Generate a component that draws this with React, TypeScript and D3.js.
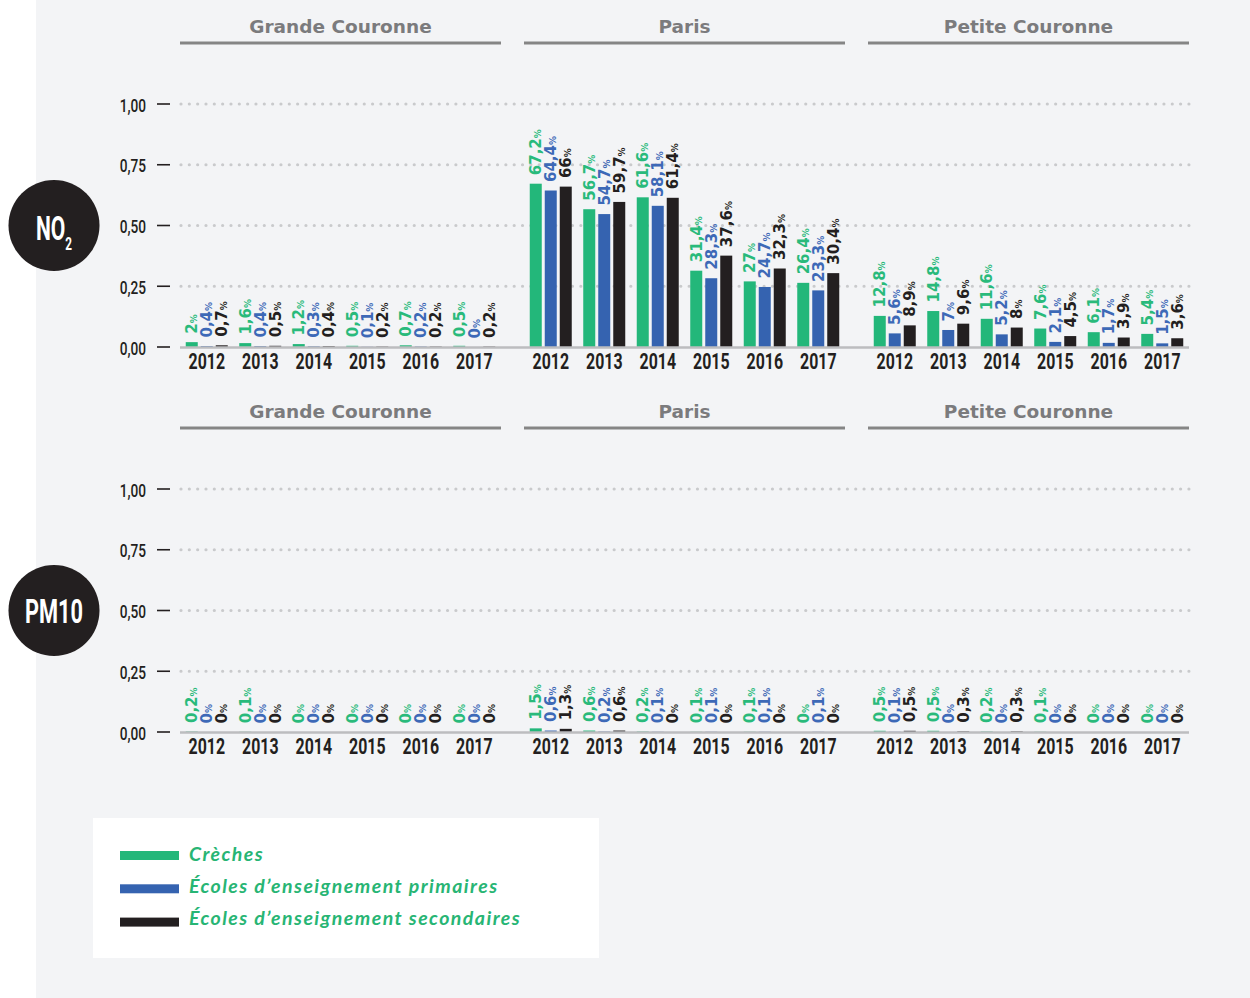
import { format, scaleBand, scaleLinear } from "d3";
import type { ReactElement } from "react";

const YEARS = ["2012", "2013", "2014", "2015", "2016", "2017"];
const ZONES = ["Grande Couronne", "Paris", "Petite Couronne"];
const SERIES = [
  "Crèches",
  "Écoles d’enseignement primaires",
  "Écoles d’enseignement secondaires",
];
const SERIES_COLORS = ["#23b77a", "#3563b0", "#231f20"];
const LABEL_COLORS = ["#29ba7b", "#3d69b7", "#231f20"];
const Y_TICKS = [0, 0.25, 0.5, 0.75, 1];

// NO2 — % d'établissements exposés, par zone
const NO2_GC_CRECHES = [2, 1.6, 1.2, 0.5, 0.7, 0.5];
const NO2_GC_PRIMAIRES = [0.4, 0.4, 0.3, 0.1, 0.2, 0];
const NO2_GC_SECONDAIRES = [0.7, 0.5, 0.4, 0.2, 0.2, 0.2];
const NO2_PARIS_CRECHES = [67.2, 56.7, 61.6, 31.4, 27, 26.4];
const NO2_PARIS_PRIMAIRES = [64.4, 54.7, 58.1, 28.3, 24.7, 23.3];
const NO2_PARIS_SECONDAIRES = [66, 59.7, 61.4, 37.6, 32.3, 30.4];
const NO2_PC_CRECHES = [12.8, 14.8, 11.6, 7.6, 6.1, 5.4];
const NO2_PC_PRIMAIRES = [5.6, 7, 5.2, 2.1, 1.7, 1.5];
const NO2_PC_SECONDAIRES = [8.9, 9.6, 8, 4.5, 3.9, 3.6];

// PM10
const PM10_GC_CRECHES = [0.2, 0.1, 0, 0, 0, 0];
const PM10_GC_PRIMAIRES = [0, 0, 0, 0, 0, 0];
const PM10_GC_SECONDAIRES = [0, 0, 0, 0, 0, 0];
const PM10_PARIS_CRECHES = [1.5, 0.6, 0.2, 0.1, 0.1, 0];
const PM10_PARIS_PRIMAIRES = [0.6, 0.2, 0.1, 0.1, 0.1, 0.1];
const PM10_PARIS_SECONDAIRES = [1.3, 0.6, 0, 0, 0, 0];
const PM10_PC_CRECHES = [0.5, 0.5, 0.2, 0.1, 0, 0];
const PM10_PC_PRIMAIRES = [0.1, 0, 0, 0, 0, 0];
const PM10_PC_SECONDAIRES = [0.5, 0.3, 0.3, 0, 0, 0];

type Row = {
  readonly key: string;
  readonly baseY: number;
  readonly zones: ReadonlyArray<ReadonlyArray<ReadonlyArray<number>>>;
};

const ROWS: ReadonlyArray<Row> = [
  {
    key: "NO2",
    baseY: 347,
    zones: [
      [NO2_GC_CRECHES, NO2_GC_PRIMAIRES, NO2_GC_SECONDAIRES],
      [NO2_PARIS_CRECHES, NO2_PARIS_PRIMAIRES, NO2_PARIS_SECONDAIRES],
      [NO2_PC_CRECHES, NO2_PC_PRIMAIRES, NO2_PC_SECONDAIRES],
    ],
  },
  {
    key: "PM10",
    baseY: 732,
    zones: [
      [PM10_GC_CRECHES, PM10_GC_PRIMAIRES, PM10_GC_SECONDAIRES],
      [PM10_PARIS_CRECHES, PM10_PARIS_PRIMAIRES, PM10_PARIS_SECONDAIRES],
      [PM10_PC_CRECHES, PM10_PC_PRIMAIRES, PM10_PC_SECONDAIRES],
    ],
  },
];

const WIDTH = 1250;
const HEIGHT = 998;
const PLOT_H = 243;
const COND = "Roboto, 'DejaVu Sans', sans-serif";

const zoneScale = scaleBand<string>().domain(ZONES).range([180, 1189]).paddingInner(23 / 344);
const yearScale = scaleBand<string>()
  .domain(YEARS)
  .range([0, zoneScale.bandwidth()])
  .paddingInner(0.215)
  .paddingOuter(0.1075);
const seriesScale = scaleBand<string>()
  .domain(SERIES)
  .range([0, yearScale.bandwidth()])
  .paddingInner(0.2);

const fmtTick = (v: number): string => format(".2f")(v).replace(".", ",");
const fmtValue = (v: number): string => String(v).replace(".", ",");

// condensed text faked through a horizontal scale
const CondText = (p: {
  x: number;
  y: number;
  sx: number;
  size: number;
  anchor: "start" | "middle" | "end";
  fill: string;
  weight: number;
  children: React.ReactNode;
}): ReactElement => (
  <text
    transform={`translate(${p.x},${p.y}) scale(${p.sx},1)`}
    textAnchor={p.anchor}
    fontFamily={COND}
    fontSize={p.size}
    fontWeight={p.weight}
    fill={p.fill}
  >
    {p.children}
  </text>
);

const Panel = ({ row }: { row: Row }): ReactElement => {
  const y = scaleLinear().domain([0, 1]).range([row.baseY, row.baseY - PLOT_H]);
  const [x0, x1] = zoneScale.range();
  return (
    <g>
      {/* y axis */}
      {Y_TICKS.map((t) => (
        <g key={t}>
          <CondText x={146} y={y(t) + 7.5} sx={0.76} size={18} anchor="end" fill="#231f20" weight={500}>
            {fmtTick(t)}
          </CondText>
          <line x1={157} x2={170} y1={y(t)} y2={y(t)} stroke="#231f20" strokeWidth={1.6} />
          {t > 0 && (
            <line
              x1={x0 + 1}
              x2={x1}
              y1={y(t)}
              y2={y(t)}
              stroke="#c9cacc"
              strokeWidth={3.2}
              strokeLinecap="round"
              strokeDasharray="0 8.33"
            />
          )}
        </g>
      ))}

      {ZONES.map((zone, zi) => {
        const zx = zoneScale(zone) ?? 0;
        const zw = zoneScale.bandwidth();
        return (
          <g key={zone}>
            <text
              x={zx + zw / 2}
              y={row.baseY - 314}
              textAnchor="middle"
              fontFamily="'DejaVu Sans', sans-serif"
              fontWeight={700}
              fontSize={18.5}
              fill="#7b7b7d"
            >
              {zone}
            </text>
            <line x1={zx} x2={zx + zw} y1={row.baseY - 304} y2={row.baseY - 304} stroke="#858585" strokeWidth={2.8} />

            {YEARS.map((year, yi) => {
              const gx = zx + (yearScale(year) ?? 0);
              return (
                <g key={year}>
                  {SERIES.map((s, si) => {
                    const v = row.zones[zi][si][yi];
                    const bx = gx + (seriesScale(s) ?? 0);
                    const bw = seriesScale.bandwidth();
                    const top = y(v / 100);
                    const cx = bx + bw / 2;
                    return (
                      <g key={s}>
                        {v > 0 && (
                          <rect x={bx} y={top} width={bw} height={row.baseY - top} fill={SERIES_COLORS[si]} />
                        )}
                        <text
                          transform={`translate(${cx},${top - 8.5}) rotate(-90)`}
                          y={5.6}
                          fontFamily="'DejaVu Sans', sans-serif"
                          fontWeight={700}
                          fontSize={15}
                          fill={LABEL_COLORS[si]}
                        >
                          {fmtValue(v)}
                          <tspan fontSize={9}>%</tspan>
                        </text>
                      </g>
                    );
                  })}
                  <CondText
                    x={gx + yearScale.bandwidth() / 2}
                    y={row.baseY + 22}
                    sx={0.74}
                    size={21.5}
                    anchor="middle"
                    fill="#231f20"
                    weight={700}
                  >
                    {year}
                  </CondText>
                </g>
              );
            })}
          </g>
        );
      })}

      <line x1={x0} x2={x1} y1={row.baseY + 0.5} y2={row.baseY + 0.5} stroke="#bcbdbf" strokeWidth={2.4} />
    </g>
  );
};

const App = (): ReactElement => {
  const circleY = (row: Row): number => row.baseY - PLOT_H / 2;
  return (
    <svg
      width={WIDTH}
      height={HEIGHT}
      viewBox={`0 0 ${WIDTH} ${HEIGHT}`}
      style={{ position: "absolute", left: 0, top: 0, display: "block" }}
    >
      <rect x={0} y={0} width={WIDTH} height={HEIGHT} fill="#ffffff" />
      <rect x={36} y={0} width={WIDTH - 36} height={HEIGHT} fill="#f3f4f6" />

      {ROWS.map((row) => (
        <Panel key={row.key} row={row} />
      ))}

      {/* pollutant badges */}
      <circle cx={54} cy={circleY(ROWS[0])} r={45.5} fill="#231f20" />
      <text
        transform={`translate(54,${circleY(ROWS[0]) + 14}) scale(0.62,1)`}
        textAnchor="middle"
        fontFamily={COND}
        fontWeight={700}
        fontSize={34}
        fill="#ffffff"
      >
        NO
        <tspan fontSize={19} dy={10}>2</tspan>
      </text>
      <circle cx={54} cy={circleY(ROWS[1])} r={45.5} fill="#231f20" />
      <CondText x={54} y={circleY(ROWS[1]) + 12} sx={0.66} size={33} anchor="middle" fill="#ffffff" weight={700}>
        PM10
      </CondText>

      {/* legend */}
      <rect x={93} y={818} width={506} height={140} fill="#ffffff" />
      {SERIES.map((s, i) => (
        <g key={s}>
          <rect x={120} y={851 + i * 33.3} width={59} height={9} fill={SERIES_COLORS[i]} />
          <text
            x={189}
            y={861 + i * 32}
            fontFamily="Lato, 'Open Sans', sans-serif"
            fontStyle="italic"
            fontWeight={700}
            fontSize={19.5}
            letterSpacing={1.45}
            fill="#27b574"
          >
            {s}
          </text>
        </g>
      ))}
    </svg>
  );
};

export default App;
